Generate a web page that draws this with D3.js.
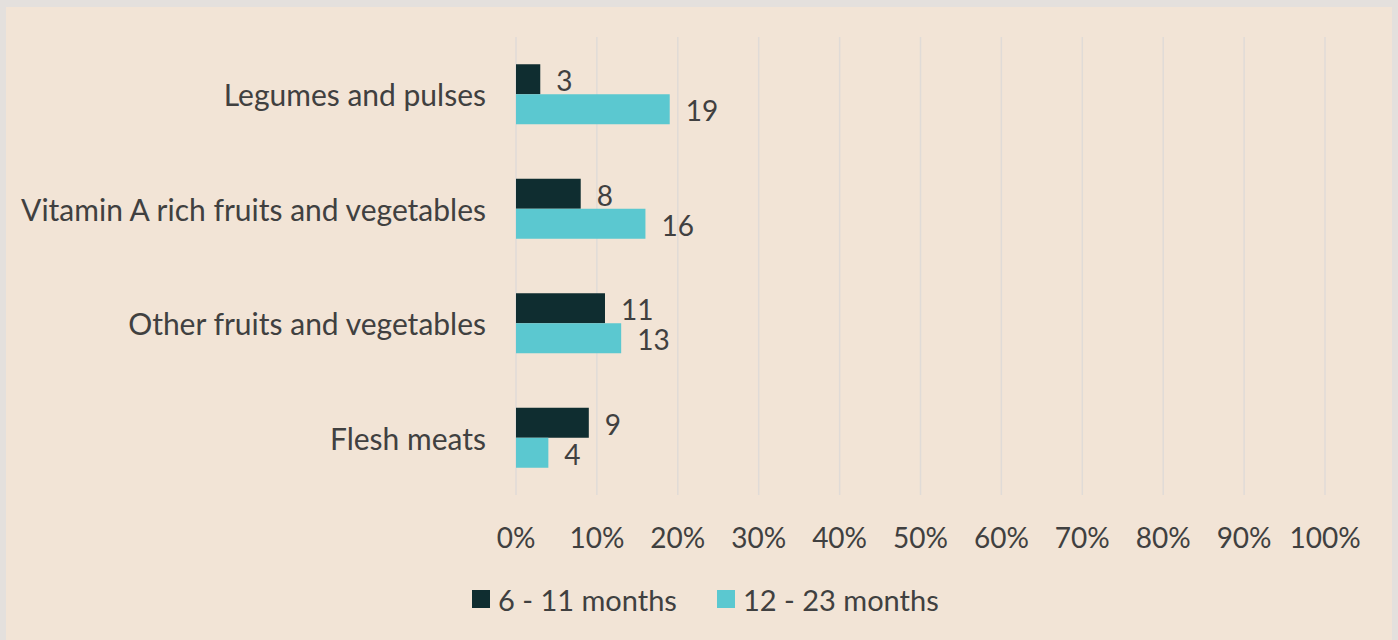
<!DOCTYPE html>
<html><head><meta charset="utf-8">
<script src="https://cdn.jsdelivr.net/npm/d3@7"></script>
<style>
html,body{margin:0;padding:0;background:#e4e0dd;}
svg{display:block;}
</style></head>
<body>
<svg id="chart" width="1398" height="640"></svg>
<script>
const categories = ["Legumes and pulses","Vitamin A rich fruits and vegetables","Other fruits and vegetables","Flesh meats"];
const seriesNames = ["6 - 11 months","12 - 23 months"];
const series6to11 = [3, 8, 11, 9];
const series12to23 = [19, 16, 13, 4];
const tickValues = [0,10,20,30,40,50,60,70,80,90,100];
const colors = ["#0f2d30","#5bc8d0"];

const svg = d3.select("#chart");
const W = 1398, H = 640;
svg.append("rect").attr("x",6).attr("y",7).attr("width",1386).attr("height",H-7).attr("fill","#f2e4d6");

const font = "Lato, 'Open Sans', sans-serif";
const textColor = "#404040";
const x = d3.scaleLinear().domain([0,100]).range([516,1325]);
const y = d3.scaleBand().domain(categories).range([37,495]).paddingInner(0.476).paddingOuter(0.238);
const sub = d3.scaleBand().domain(seriesNames).range([0,y.bandwidth()]);

// gridlines
svg.append("g").selectAll("line").data(tickValues).join("line")
  .attr("x1",d=>x(d)).attr("x2",d=>x(d)).attr("y1",37).attr("y2",495)
  .attr("stroke","#e0dbd7").attr("stroke-width",1.5);

const data = [series6to11, series12to23];
data.forEach((vals,si)=>{
  const g = svg.append("g");
  g.selectAll("rect").data(vals).join("rect")
    .attr("x",x(0)).attr("y",(d,i)=>y(categories[i])+sub(seriesNames[si]))
    .attr("width",d=>x(d)-x(0)).attr("height",sub.bandwidth())
    .attr("fill",colors[si]);
  g.selectAll("text").data(vals).join("text")
    .attr("x",d=>x(d)+16).attr("y",(d,i)=>y(categories[i])+sub(seriesNames[si])+sub.bandwidth()/2+1)
    .attr("dominant-baseline","central")
    .attr("font-family",font).attr("font-size",28).attr("fill",textColor)
    .text(d=>d);
});

// category labels
svg.append("g").selectAll("text").data(categories).join("text")
  .attr("x",486).attr("y",d=>y(d)+y.bandwidth()/2)
  .attr("text-anchor","end").attr("dominant-baseline","central")
  .attr("font-family",font).attr("font-size",30).attr("fill",textColor)
  .text(d=>d);

// tick labels
svg.append("g").selectAll("text").data(tickValues).join("text")
  .attr("x",d=>x(d)).attr("y",537)
  .attr("text-anchor","middle").attr("dominant-baseline","central")
  .attr("font-family",font).attr("font-size",28).attr("fill",textColor)
  .text(d=>d+"%");

// legend
const legX = [472, 717];
seriesNames.forEach((n,i)=>{
  svg.append("rect").attr("x",legX[i]).attr("y",590).attr("width",18).attr("height",18).attr("fill",colors[i]);
  svg.append("text").attr("x",legX[i]+26).attr("y",599)
    .attr("dominant-baseline","central")
    .attr("font-family",font).attr("font-size",29).attr("fill",textColor).text(n);
});
</script>
</body></html>
